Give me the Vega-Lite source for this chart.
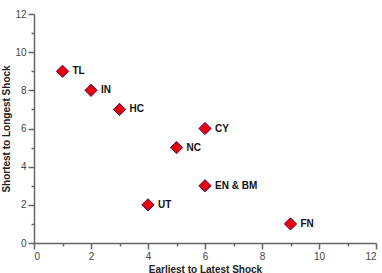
{
  "$schema": "https://vega.github.io/schema/vega-lite/v6.json",
  "width": 342,
  "height": 229,
  "autosize": {"type": "none"},
  "padding": {"left": 34, "top": 14, "right": 6, "bottom": 30},
  "background": "white",
  "config": {
    "view": {"stroke": null},
    "font": "Liberation Sans"
  },
  "data": {
    "values": [
      {"label": "TL", "x": 1, "y": 9},
      {"label": "IN", "x": 2, "y": 8},
      {"label": "HC", "x": 3, "y": 7},
      {"label": "CY", "x": 6, "y": 6},
      {"label": "NC", "x": 5, "y": 5},
      {"label": "EN & BM", "x": 6, "y": 3},
      {"label": "UT", "x": 4, "y": 2},
      {"label": "FN", "x": 9, "y": 1}
    ]
  },
  "encoding": {
    "x": {
      "field": "x", "type": "quantitative",
      "scale": {"domain": [0, 12], "nice": false, "zero": false},
      "axis": {
        "title": "Earliest to Latest Shock",
        "titleFontSize": 10, "titleFontWeight": "bold", "titleColor": "#222", "titlePadding": 3,
        "values": [0,1,2,3,4,5,6,7,8,9,10,11,12],
        "labelExpr": "datum.value % 2 ? '' : datum.label",
        "labelFontSize": 10, "labelColor": "#444", "labelPadding": 2,
        "tickSize": {"condition": {"test": "datum.value % 2", "value": 3}, "value": 6},
        "grid": false, "domainColor": "#666", "domainWidth": 1.5, "tickColor": "#666", "tickWidth": 1.5
      }
    },
    "y": {
      "field": "y", "type": "quantitative",
      "scale": {"domain": [0, 12], "nice": false, "zero": false},
      "axis": {
        "title": "Shortest to Longest Shock",
        "titleFontSize": 10, "titleFontWeight": "bold", "titleColor": "#222", "titlePadding": 3,
        "values": [0,1,2,3,4,5,6,7,8,9,10,11,12],
        "labelExpr": "datum.value % 2 ? '' : datum.label",
        "labelFontSize": 10, "labelColor": "#444", "labelPadding": 2,
        "tickSize": {"condition": {"test": "datum.value % 2", "value": 3}, "value": 6},
        "grid": false, "domainColor": "#666", "domainWidth": 1.5, "tickColor": "#666", "tickWidth": 1.5
      }
    }
  },
  "layer": [
    {
      "mark": {"type": "point", "shape": "diamond", "filled": true, "size": 150, "color": "#e8000b", "stroke": "#4b0a4f", "strokeWidth": 1, "opacity": 1}
    },
    {
      "mark": {"type": "text", "align": "left", "baseline": "middle", "dx": 10, "fontSize": 10, "fontWeight": "bold", "color": "#111"},
      "encoding": {"text": {"field": "label"}}
    }
  ]
}
